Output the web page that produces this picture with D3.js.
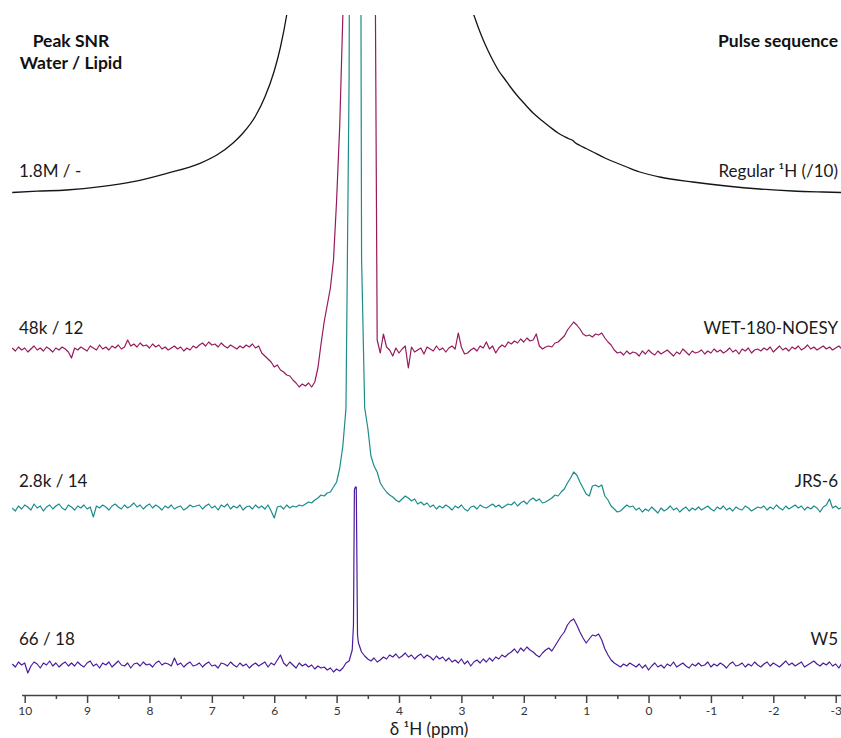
<!DOCTYPE html>
<html>
<head>
<meta charset="utf-8">
<script src="https://cdn.jsdelivr.net/npm/d3@7"></script>
<style>
  body { margin: 0; background: #fff; }
  svg { display: block; font-family: Lato, "Open Sans", sans-serif; }
</style>
</head>
<body>
<svg id="chart" width="841" height="738"></svg>
<script>
// sampling grid shared by the three suppressed spectra: 10.20 -> -3.10 ppm, 0.05 ppm apart
var gridStart = 10.2, gridStep = 0.05;

// regular 1H spectrum (divided by 10), smooth so only sparse points
var regularPpm = [10.2, 9.8, 9.33, 8.78, 8.26, 7.72, 7.19, 6.92, 6.66, 6.5, 6.3, 6.15, 6.0, 5.9, 5.8, 5.7, 5.5, 5.2, 4.9, 4.6, 4.2, 3.7, 3.3, 3.0, 2.88, 2.80, 2.72, 2.65, 2.57, 2.49, 2.4, 2.3, 2.22, 2.1, 2.0, 1.85, 1.7, 1.58, 1.45, 1.35, 1.27, 1.22, 1.17, 1.10, 1.0, 0.89, 0.70, 0.51, 0.35, 0.14, -0.18, -0.71, -1.25, -1.78, -2.31, -2.8, -3.1];
var regularInt = [0.5, 1.8, 3, 6.3, 11.3, 19.7, 29.7, 38, 50, 60, 77, 96, 122, 146, 178, 220, 320, 560, 1000, 1400, 1000, 560, 330, 215, 192, 178, 164, 153, 142, 132, 122, 113.5, 106.5, 97, 90, 80, 72, 66, 60, 56.5, 54, 52.8, 50, 47.5, 44.5, 41, 35, 30, 26, 21, 16, 11, 7, 4, 2, 1, 0.5];

// WET-180-NOESY, one row per ppm (20 points)
var wetInt = [
  2, -1, 3, 0, 2, -2, 1, 4, 0, 2, -1, 3, 1, -2, 2, 0, 3, 1, -2, -8,
  2, 0, 3, 1, -1, 4, 2, 0, 5, 1, 3, 0, 4, 2, 5, 1, 3, 10, 4, 6,
  3, 7, 4, 5, 2, 6, 3, 5, 1, 3, 0, 2, 4, 1, 3, -1, 2, 0, 4, 2,
  5, 7, 4, 8, 5, 6, 3, 7, 4, 2, 5, 3, 1, 4, 2, 5, 3, 6, 2, 4,
  -3, -6, -9, -12, -17, -15, -20, -22, -25, -26, -30, -33, -37, -34, -36, -33, -37, -32, -18, 6,
  28, 45, 62, 90, 150, 225, 335, 600, 1000, 1600, 2000, 1800, 1500, 1200, 1000, 800, 600, 10, -3, 16,
  3, 0, -6, 2, -3, 1, 4, -18, 3, -2, 0, 2, -4, 3, 1, -1, 4, 0, 2, -2,
  2, 4, 1, 17, 3, -4, -3, 0, 2, -1, 4, 2, 8, 1, 4, -3, 2, 5, 3, 8,
  6, 9, 7, 11, 8, 12, 9, 10, 16, 4, 1, 3, 4, 3, 7, 8, 11, 14, 20, 24,
  28, 25, 21, 16, 14, 15, 13, 16, 15, 17, 12, 8, 5, 0, -3, -2, -5, -1, -4, -2,
  -3, -6, -1, -4, 0, -3, -5, -1, -4, -2, 0, -3, -6, -2, -4, 1, -2, -5, -1, -3,
  -2, 0, -4, -1, -3, 1, -2, 0, -3, -1, 2, -2, 0, -4, 1, -1, 2, -3, 0, 1,
  -1, 2, 0, 3, -2, 1, 4, 0, 2, -1, 3, 1, 4, 0, 2, 5, 1, 3, 0, 2,
  4, 1, 3, 0, 2, 4, 1
];

// JRS-6
var jrsInt = [
  0, -3, 2, -1, 3, 1, -2, 4, 0, 2, -3, 1, 3, -1, 2, 4, 0, -2, 3, 1,
  -2, 2, 0, 3, -1, 1, -9, 2, 0, 3, 1, -2, 2, 4, 1, -1, 3, 0, 2, 5,
  1, 3, -1, 2, 4, 0, 3, 1, -2, 2, 0, 3, -1, 1, 2, -2, 0, 3, 1, 2,
  3, -1, 2, 4, 0, 2, -2, 3, 1, 4, -1, 2, 0, 3, -2, 1, 2, -1, 3, 0,
  2, -1, 3, -3, -10, 1, 2, -1, 3, 0, 2, 1, 3, 2, 4, 6, 5, 8, 10, 13,
  12, 15, 16, 21, 26, 40, 62, 100, 430, 1500, 3000, 1500, 250, 100, 80, 52, 42, 36, 25, 20,
  16, 13, 11, 8, 6, 9, 12, 10, 7, 9, 4, 6, 3, 5, 1, 3, -1, 2, 0, 3,
  1, -2, 2, 0, 3, -1, -3, 1, 2, -1, 3, 1, 0, 2, 4, 1, 3, 0, 2, 4,
  3, 6, 2, 5, 7, 4, 8, 10, 7, 9, 5, 6, 8, 10, 13, 12, 16, 19, 25, 30,
  36, 33, 26, 20, 14, 12, 22, 23, 21, 23, 12, 8, 2, -1, -4, -3, 0, 3, 1, 2,
  -2, 0, -4, -1, -3, 1, -2, -5, 0, -3, -1, 2, -2, 0, -4, -1, 1, -3, 0, -2,
  1, -2, 0, 2, -1, -3, 1, -1, 2, -2, 0, -3, 1, -1, -2, 2, 0, -3, -1, 1,
  0, 2, -2, 1, -1, 3, 0, -2, 2, -1, 1, 3, 0, 2, -2, 1, -1, 2, 0, -4,
  1, 3, 9, 0, 2, -1, 1
];

// W5
var w5Int = [
  1, -2, 3, 0, 2, -8, -1, 3, 1, -3, 2, 0, 4, -1, 2, -2, 1, 3, -1, 2,
  -1, 3, 0, -2, 2, 4, -1, 1, -3, 2, 0, 3, -2, 1, 4, 0, -1, 2, -3, 1,
  2, -1, 3, 0, 1, -2, 2, 4, 0, 2, 1, -1, 7, 0, 2, -2, 1, 3, -1, 0,
  2, -2, 1, 3, -1, 0, -3, 2, 1, -1, 3, 0, -2, 2, -1, 1, -3, 0, 2, -1,
  1, 3, -2, 2, 0, 5, 10, 2, -1, 3, 0, -3, 2, -1, 1, -2, 0, -4, -1, -3,
  -2, -5, -3, -7, -4, -6, -3, 2, 4, 15, 178, 22, 13, 9, 6, 4, 7, 3, 5, 8,
  6, 10, 8, 11, 7, 9, 12, 8, 10, 6, 9, 11, 7, 10, 8, 5, 9, 6, 8, 4,
  7, 3, 5, 2, 6, 1, 4, -1, 3, 5, 2, 6, 3, 7, 4, 8, 6, 10, 8, 11,
  13, 16, 12, 17, 14, 18, 15, 13, 10, 8, 12, 15, 17, 14, 19, 24, 29, 33, 40, 44,
  46, 40, 33, 27, 22, 26, 30, 29, 31, 25, 16, 10, 5, 2, 0, -2, 1, -1, 2, 0,
  -2, 1, -3, 0, -5, -1, 2, -2, 0, -3, 1, -1, 3, -2, 0, 2, -1, -3, 1, -1,
  2, -1, 0, 3, -2, 1, -1, 2, 0, -3, 1, 3, -1, 0, 2, -2, 1, -1, 3, 0,
  -2, 1, 3, -1, 2, 0, -2, 1, 4, 0, 2, -1, 1, 3, -2, 0, 2, 4, 1, -1,
  2, 0, 3, -1, 1, -3, 2
];
// extra points on the narrow W5 water line
var w5ExtraPpm = [4.73, 4.715, 4.685, 4.665];
var w5ExtraInt = [40, 175, 178, 30];

var snrLabels = ["1.8M / -", "48k / 12", "2.8k / 14", "66 / 18"];
var sequenceLabels = ["Regular \u00b9H (/10)", "WET-180-NOESY", "JRS-6", "W5"];
var majorTicks = [10, 9, 8, 7, 6, 5, 4, 3, 2, 1, 0, -1, -2, -3];
var minorTicks = [9.5, 8.5, 7.5, 6.5, 5.5, 4.5, 3.5, 2.5, 1.5, 0.5, -0.5, -1.5, -2.5];

// layout
var W = 841, H = 738;
var axisY = 695, clipTop = 15;
var baselines = [193, 350, 508, 665];
var labelLift = [16, 16, 21, 20];
var colours = ["#151515", "#961a5c", "#1b8c8a", "#4b1c9b"];

var svg = d3.select("#chart");

var x = d3.scaleLinear().domain([10, -3]).range([24.7, 835.7]);

function gridSeries(vals) {
  return vals.map(function(v, i) { return {ppm: +(gridStart - i * gridStep).toFixed(3), v: v}; });
}
function pairs(ppm, vals) {
  return ppm.map(function(p, i) { return {ppm: p, v: vals[i]}; });
}

var w5 = gridSeries(w5Int).concat(pairs(w5ExtraPpm, w5ExtraInt))
  .sort(function(a, b) { return b.ppm - a.ppm; });

var traces = [
  {data: pairs(regularPpm, regularInt), curve: d3.curveMonotoneX, width: 1.3},
  {data: gridSeries(wetInt), curve: d3.curveLinear, width: 1.2},
  {data: gridSeries(jrsInt), curve: d3.curveLinear, width: 1.2},
  {data: w5, curve: d3.curveLinear, width: 1.2}
];

svg.append("clipPath").attr("id", "plotclip")
  .append("rect").attr("x", 0).attr("y", clipTop).attr("width", W).attr("height", axisY - clipTop);

var plot = svg.append("g").attr("clip-path", "url(#plotclip)");

traces.forEach(function(t, k) {
  var y = d3.scaleLinear().domain([0, 100]).range([baselines[k], baselines[k] - 100]);
  var line = d3.line()
    .x(function(d) { return x(d.ppm); })
    .y(function(d) { return y(d.v); })
    .curve(t.curve);
  plot.append("path")
    .datum(t.data)
    .attr("fill", "none")
    .attr("stroke", colours[k])
    .attr("stroke-width", t.width)
    .attr("stroke-linejoin", "round")
    .attr("d", line);
});

// labels either side of each trace
svg.selectAll(".snr").data(snrLabels).enter().append("text")
  .attr("class", "snr")
  .attr("x", 19)
  .attr("y", function(d, i) { return baselines[i] - labelLift[i]; })
  .attr("font-size", 17)
  .attr("fill", "#1a1a1a")
  .text(function(d) { return d; });

svg.selectAll(".seq").data(sequenceLabels).enter().append("text")
  .attr("class", "seq")
  .attr("x", 838)
  .attr("y", function(d, i) { return baselines[i] - labelLift[i]; })
  .attr("text-anchor", "end")
  .attr("font-size", 17)
  .attr("fill", "#1a1a1a")
  .text(function(d) { return d; });

// column headers
var head = svg.append("g").attr("font-weight", "bold").attr("font-size", 17.5).attr("fill", "#111");
head.append("text").attr("x", 71).attr("y", 47).attr("text-anchor", "middle").text("Peak SNR");
head.append("text").attr("x", 71).attr("y", 69).attr("text-anchor", "middle").text("Water / Lipid");
head.append("text").attr("x", 838).attr("y", 47).attr("text-anchor", "end").text("Pulse sequence");

// ppm axis
var xa = x.copy().domain([10.05, -3.1]).range([x(10.05), x(-3.1)]);
var axisG = svg.append("g").attr("transform", "translate(0," + axisY + ")");

axisG.call(d3.axisBottom(xa).tickValues(majorTicks).tickSize(8).tickSizeOuter(0).tickPadding(3)
  .tickFormat(function(d) { return String(d); }));
axisG.append("g").call(d3.axisBottom(xa).tickValues(minorTicks).tickSize(4).tickSizeOuter(0)
  .tickFormat(""))
  .select(".domain").remove();

axisG.selectAll(".domain, line").attr("stroke", "#444").attr("stroke-width", 1.5);
axisG.selectAll("text").attr("font-family", "Lato, sans-serif").attr("font-size", 12).attr("fill", "#333");

svg.append("text")
  .attr("x", 429).attr("y", 735)
  .attr("text-anchor", "middle")
  .attr("font-size", 17)
  .attr("fill", "#1a1a1a")
  .text("\u03b4 \u00b9H (ppm)");
</script>
</body>
</html>
